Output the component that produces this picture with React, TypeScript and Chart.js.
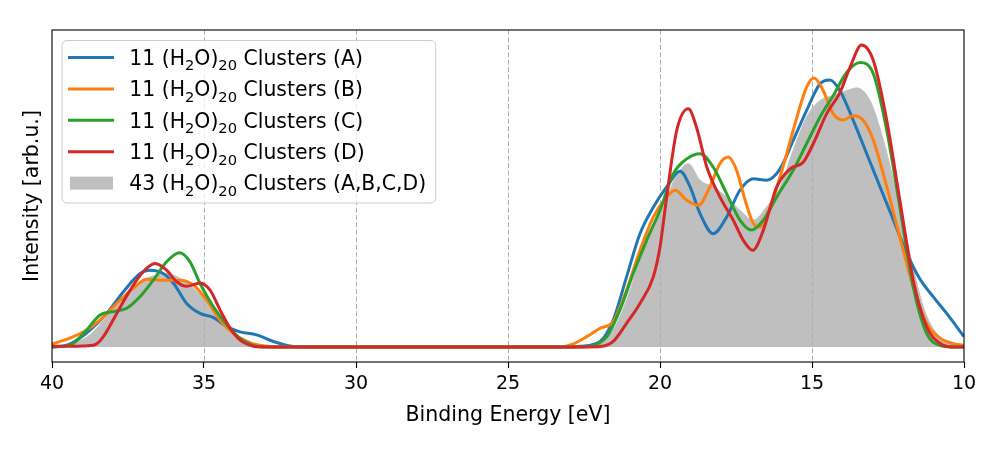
import React, { useEffect, useRef } from 'react';
import { Chart, registerables } from 'chart.js';

Chart.register(...registerables);

const FONT = '"DejaVu Sans", "Liberation Sans", sans-serif';

// ---- data (binding energy in eV, intensity in arb. units) ----
const energyA = [40, 39.6, 39.3, 38.75, 38.2, 37.65, 37.1, 36.78, 36.34, 36.0, 35.57, 35.13, 34.7, 34.25, 33.82, 33.27, 32.72, 32.17, 31.5, 23, 22.63, 21.97, 21.54, 21.1, 20.66, 20.22, 19.78, 19.34, 19.01, 18.68, 18.25, 17.81, 17.37, 16.93, 16.5, 16.05, 15.62, 15.18, 14.74, 14.41, 14.08, 13.64, 13.2, 12.76, 12.32, 11.88, 11.45, 11.01, 10.57, 10.0];
const intensityA = [0, 0.003, 0.015, 0.056, 0.111, 0.183, 0.243, 0.254, 0.243, 0.21, 0.144, 0.111, 0.098, 0.067, 0.05, 0.04, 0.018, 0.003, 0, 0, 0.002, 0.018, 0.089, 0.232, 0.375, 0.463, 0.53, 0.582, 0.53, 0.441, 0.375, 0.43, 0.519, 0.557, 0.552, 0.59, 0.684, 0.783, 0.871, 0.884, 0.849, 0.75, 0.64, 0.53, 0.42, 0.31, 0.225, 0.166, 0.111, 0.034];

const energyB = [40, 39.41, 38.86, 38.42, 37.87, 37.33, 36.88, 36.45, 35.79, 35.35, 34.91, 34.47, 34.04, 33.49, 33.0, 32.5, 23.3, 22.85, 22.41, 21.97, 21.54, 21.1, 20.66, 20.22, 19.78, 19.5, 19.12, 18.74, 18.36, 18.03, 17.75, 17.48, 17.2, 16.93, 16.71, 16.38, 16.05, 15.62, 15.18, 14.93, 14.63, 14.3, 13.97, 13.64, 13.31, 12.98, 12.54, 12.11, 11.67, 11.23, 10.79, 10.35, 10];
const intensityB = [0.01, 0.029, 0.056, 0.089, 0.144, 0.194, 0.224, 0.221, 0.221, 0.205, 0.155, 0.089, 0.045, 0.014, 0.003, 0, 0, 0.01, 0.034, 0.062, 0.084, 0.188, 0.32, 0.43, 0.497, 0.519, 0.486, 0.469, 0.53, 0.607, 0.629, 0.585, 0.486, 0.409, 0.397, 0.463, 0.563, 0.717, 0.86, 0.891, 0.849, 0.772, 0.752, 0.766, 0.75, 0.684, 0.53, 0.364, 0.199, 0.078, 0.029, 0.01, 0.005];

const energyC = [40, 39.6, 39.3, 38.86, 38.42, 37.98, 37.54, 37.11, 36.67, 36.23, 35.81, 35.46, 35.13, 34.69, 34.25, 33.82, 33.4, 33.0, 22.6, 22.19, 21.75, 21.32, 20.88, 20.44, 20.0, 19.56, 19.12, 18.68, 18.25, 17.81, 17.37, 16.99, 16.6, 16.16, 15.62, 15.18, 14.74, 14.3, 13.86, 13.42, 12.98, 12.54, 12.11, 11.67, 11.23, 10.79, 10.4, 10];
const intensityC = [0, 0.002, 0.012, 0.056, 0.106, 0.117, 0.128, 0.166, 0.221, 0.282, 0.312, 0.282, 0.21, 0.133, 0.073, 0.029, 0.005, 0, 0, 0.005, 0.034, 0.122, 0.243, 0.353, 0.453, 0.574, 0.623, 0.64, 0.596, 0.508, 0.42, 0.387, 0.42, 0.497, 0.585, 0.673, 0.761, 0.833, 0.909, 0.942, 0.904, 0.717, 0.463, 0.199, 0.045, 0.005, 0, 0];

const energyD = [40, 39.5, 39.0, 38.59, 38.31, 37.87, 37.43, 37.0, 36.61, 36.23, 35.9, 35.57, 35.13, 34.8, 34.47, 34.14, 33.82, 33.4, 33.0, 22.4, 21.97, 21.54, 21.1, 20.66, 20.22, 20.0, 19.78, 19.45, 19.07, 18.8, 18.46, 18.03, 17.59, 17.26, 16.95, 16.6, 16.16, 15.72, 15.29, 14.96, 14.52, 14.08, 13.75, 13.37, 12.98, 12.54, 12.11, 11.67, 11.23, 10.79, 10.4, 10];
const intensityD = [0.003, 0.002, 0.003, 0.007, 0.034, 0.111, 0.188, 0.249, 0.276, 0.254, 0.216, 0.201, 0.212, 0.188, 0.122, 0.062, 0.023, 0.003, 0, 0, 0.001, 0.018, 0.078, 0.144, 0.232, 0.331, 0.497, 0.717, 0.789, 0.728, 0.596, 0.497, 0.42, 0.353, 0.32, 0.387, 0.53, 0.59, 0.612, 0.673, 0.772, 0.843, 0.926, 1.0, 0.948, 0.75, 0.486, 0.221, 0.067, 0.012, 0, 0];

const energyAll = [40, 39.5, 39.2, 38.75, 38.2, 37.65, 37.1, 36.67, 36.23, 35.79, 35.35, 34.91, 34.47, 34.04, 33.6, 33.1, 32.5, 22.8, 22.19, 21.54, 21.1, 20.66, 20.22, 19.78, 19.45, 19.07, 18.68, 18.25, 17.81, 17.37, 16.93, 16.5, 16.05, 15.62, 15.18, 14.74, 14.3, 13.86, 13.53, 13.09, 12.65, 12.22, 11.78, 11.34, 10.9, 10.35, 10];
const intensityAll = [0.003, 0.008, 0.015, 0.04, 0.1, 0.166, 0.216, 0.235, 0.243, 0.227, 0.194, 0.15, 0.089, 0.045, 0.018, 0.005, 0, 0, 0.005, 0.056, 0.155, 0.287, 0.397, 0.497, 0.568, 0.607, 0.552, 0.53, 0.497, 0.453, 0.42, 0.463, 0.53, 0.651, 0.761, 0.816, 0.833, 0.849, 0.858, 0.816, 0.684, 0.508, 0.31, 0.133, 0.045, 0.015, 0.008];

const seriesLabels = [
  '11 (H₂O)₂₀ Clusters (A)',
  '11 (H₂O)₂₀ Clusters (B)',
  '11 (H₂O)₂₀ Clusters (C)',
  '11 (H₂O)₂₀ Clusters (D)',
  '43 (H₂O)₂₀ Clusters (A,B,C,D)',
];
const seriesColors = ['#1f77b4', '#ff7f0e', '#2ca02c', '#d62728', '#bfbfbf'];
const xTickValues = [40, 35, 30, 25, 20, 15, 10];
const xTitle = 'Binding Energy [eV]';
const yTitle = 'Intensity [arb.u.]';

const FILL_INDEX = 4;

const toPoints = (xs: number[], ys: number[]) => xs.map((x, i) => ({ x, y: ys[i] }));

const SUB = '₀₁₂₃₄₅₆₇₈₉';
const SUB_SCALE = 0.72;

function richWidth(ctx: CanvasRenderingContext2D, text: string, size: number) {
  let w = 0;
  for (const ch of text) {
    const idx = SUB.indexOf(ch);
    if (idx >= 0) {
      ctx.font = `${size * SUB_SCALE}px ${FONT}`;
      w += ctx.measureText(String(idx)).width;
    } else {
      ctx.font = `${size}px ${FONT}`;
      w += ctx.measureText(ch).width;
    }
  }
  return w;
}

function drawRich(ctx: CanvasRenderingContext2D, text: string, x: number, y: number, size: number) {
  let cx = x;
  let buf = '';
  let bufSub = false;
  const flush = () => {
    if (!buf) return;
    const s = bufSub ? size * SUB_SCALE : size;
    ctx.font = `${s}px ${FONT}`;
    ctx.fillText(buf, cx, bufSub ? y + size * 0.27 : y);
    cx += ctx.measureText(buf).width;
    buf = '';
  };
  for (const ch of text) {
    const idx = SUB.indexOf(ch);
    const isSub = idx >= 0;
    if (isSub !== bufSub) {
      flush();
      bufSub = isSub;
    }
    buf += isSub ? String(idx) : ch;
  }
  flush();
}

const decorPlugin = {
  id: 'mplDecor',
  afterDatasetDraw(chart: any, args: any) {
    if (args.index !== FILL_INDEX) return;
    const { ctx, chartArea } = chart;
    const xs = chart.scales.x;
    ctx.save();
    ctx.strokeStyle = '#b0b0b0';
    ctx.lineWidth = 1;
    ctx.setLineDash([5, 2.4]);
    xs.ticks.forEach((t: any) => {
      if (t.value === xs.min || t.value === xs.max) return;
      const px = Math.round(xs.getPixelForValue(t.value)) + 0.5;
      ctx.beginPath();
      ctx.moveTo(px, chartArea.top);
      ctx.lineTo(px, chartArea.bottom);
      ctx.stroke();
    });
    ctx.restore();
  },
  afterDraw(chart: any) {
    const { ctx, chartArea } = chart;
    // frame
    ctx.save();
    ctx.strokeStyle = '#000';
    ctx.lineWidth = 1.1;
    ctx.strokeRect(chartArea.left, chartArea.top, chartArea.right - chartArea.left, chartArea.bottom - chartArea.top);
    ctx.restore();

    // legend
    const size = 20.4;
    const datasets = chart.data.datasets;
    let maxW = 0;
    datasets.forEach((d: any) => {
      maxW = Math.max(maxW, richWidth(ctx, d.label, size));
    });
    const bx = chartArea.left + 10;
    const by = chartArea.top + 10.5;
    const textX = bx + 67.3;
    const bw = 67.3 + maxW + 9.5;
    const rowH = 31.4;
    const bh = 162.5;
    ctx.save();
    ctx.beginPath();
    (ctx as any).roundRect(bx, by, bw, bh, 5);
    ctx.fillStyle = 'rgba(255,255,255,0.8)';
    ctx.fill();
    ctx.strokeStyle = '#cccccc';
    ctx.lineWidth = 1;
    ctx.stroke();
    datasets.forEach((d: any, i: number) => {
      const cy = by + 17 + i * rowH;
      if (i === FILL_INDEX) {
        ctx.fillStyle = d.backgroundColor;
        ctx.fillRect(bx + 8, cy - 6.5, 43, 13);
      } else {
        ctx.strokeStyle = d.borderColor;
        ctx.lineWidth = 3;
        ctx.beginPath();
        ctx.moveTo(bx + 6, cy);
        ctx.lineTo(bx + 52, cy);
        ctx.stroke();
      }
      ctx.fillStyle = '#000';
      ctx.textBaseline = 'alphabetic';
      ctx.textAlign = 'left';
      drawRich(ctx, d.label, textX, cy + 7.3, size);
    });
    ctx.restore();
  },
};

export default function App() {
  const ref = useRef<HTMLCanvasElement | null>(null);

  useEffect(() => {
    if (!ref.current) return;
    const lineSets = [
      [energyA, intensityA],
      [energyB, intensityB],
      [energyC, intensityC],
      [energyD, intensityD],
    ].map(([xs, ys], i) => ({
      label: seriesLabels[i],
      data: toPoints(xs, ys),
      borderColor: seriesColors[i],
      backgroundColor: seriesColors[i],
      borderWidth: 3,
      pointRadius: 0,
      fill: false,
      cubicInterpolationMode: 'monotone' as const,
      order: 4 - i,
    }));
    const fillSet = {
      label: seriesLabels[4],
      data: toPoints(energyAll, intensityAll),
      borderColor: seriesColors[4],
      backgroundColor: seriesColors[4],
      borderWidth: 1,
      pointRadius: 0,
      fill: 'origin',
      cubicInterpolationMode: 'monotone' as const,
      order: 10,
    };

    const chart = new Chart(ref.current, {
      type: 'line',
      data: { datasets: [...lineSets, fillSet] as any },
      options: {
        responsive: false,
        animation: false,
        events: [],
        layout: { padding: { left: 0, right: 37, top: 30, bottom: 0 } },
        plugins: {
          legend: { display: false },
          tooltip: { enabled: false },
        },
        scales: {
          x: {
            type: 'linear',
            min: 10,
            max: 40,
            reverse: true,
            afterBuildTicks: (s: any) => {
              s.ticks = xTickValues.map((v) => ({ value: v }));
            },
            ticks: {
              color: '#000',
              font: { family: FONT, size: 19 },
              padding: 5,
              maxRotation: 0,
              autoSkip: false,
              callback: (v: any) => String(v),
            },
            grid: {
              display: true,
              drawOnChartArea: false,
              drawTicks: true,
              tickLength: 6,
              tickColor: '#000',
              tickWidth: 1.1,
            },
            border: { display: false },
            title: {
              display: true,
              text: xTitle,
              color: '#000',
              font: { family: FONT, size: 20.5 },
              padding: { top: 0, bottom: 22.5 },
            },
            afterFit: (s: any) => {
              s.height = 88;
            },
          },
          y: {
            type: 'linear',
            min: -0.05,
            max: 1.05,
            ticks: { display: false },
            grid: { display: false },
            border: { display: false },
            title: {
              display: true,
              text: yTitle,
              color: '#000',
              font: { family: FONT, size: 20.5 },
              padding: { top: 20.5, bottom: 0 },
            },
            afterFit: (s: any) => {
              s.width = 52;
            },
          },
        },
      },
      plugins: [decorPlugin],
    });
    return () => chart.destroy();
  }, []);

  return (
    <div style={{ position: 'absolute', left: 0, top: 0, width: 1001, height: 450, background: '#fff' }}>
      <canvas ref={ref} width={1001} height={450} style={{ display: 'block' }} />
    </div>
  );
}
